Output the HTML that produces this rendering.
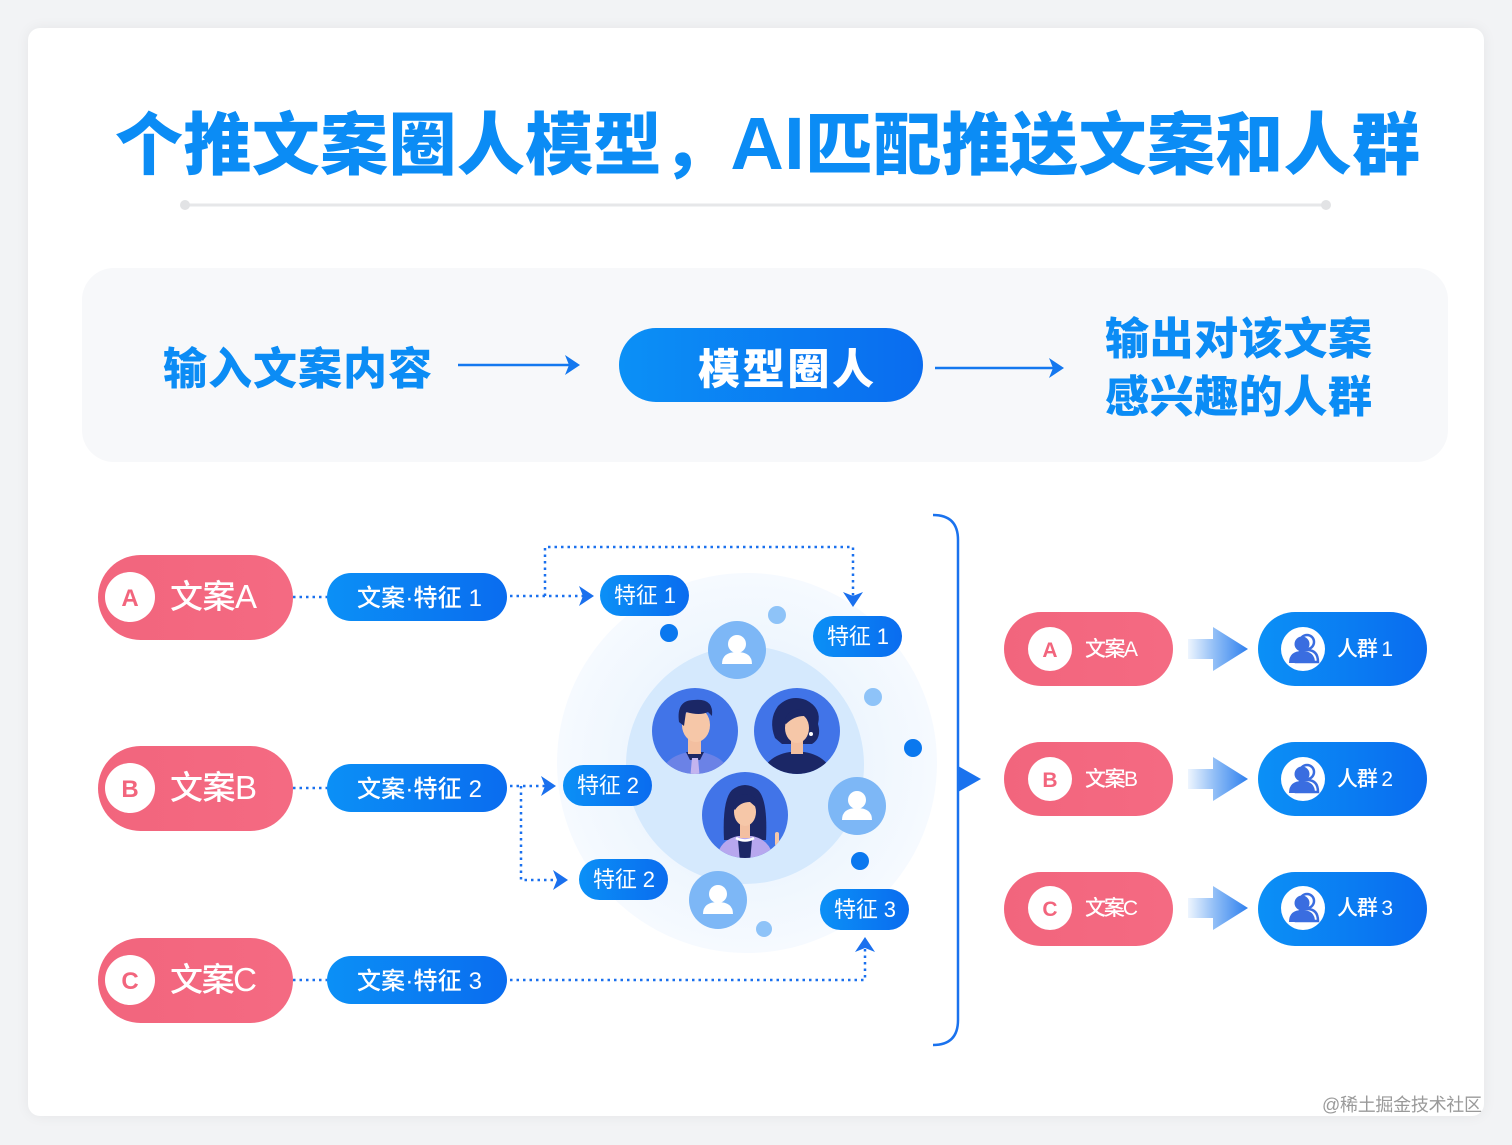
<!DOCTYPE html>
<html><head><meta charset="utf-8"><style>
html,body{margin:0;padding:0;width:1512px;height:1145px;overflow:hidden;background:#f2f3f5;}
.card{position:absolute;left:28px;top:28px;width:1456px;height:1088px;background:#fff;border-radius:12px;box-shadow:0 0 14px rgba(0,0,0,0.06);}
svg{position:absolute;left:0;top:0;}
</style></head><body>
<div class="card"></div>
<svg width="1512" height="1145" viewBox="0 0 1512 1145" font-family="'Liberation Sans','Noto Sans CJK SC',sans-serif">
<defs>
<linearGradient id="bg" x1="0" y1="0" x2="1" y2="0"><stop offset="0" stop-color="#0b90f6"/><stop offset="1" stop-color="#0a6cef"/></linearGradient>
<linearGradient id="pk" x1="0" y1="0" x2="1" y2="0"><stop offset="0" stop-color="#f2657d"/><stop offset="1" stop-color="#f46a82"/></linearGradient>
<linearGradient id="ag" x1="0" y1="0" x2="1" y2="0"><stop offset="0" stop-color="#eef5fe"/><stop offset="0.45" stop-color="#8fbdf6"/><stop offset="1" stop-color="#2f80ee"/></linearGradient>
<radialGradient id="halo" cx="0.5" cy="0.5" r="0.5"><stop offset="0.6" stop-color="#eef6fe"/><stop offset="1" stop-color="#f6faff"/></radialGradient>
<clipPath id="c1"><circle cx="695" cy="731" r="43"/></clipPath>
<clipPath id="c2"><circle cx="797" cy="731" r="43"/></clipPath>
<clipPath id="c3"><circle cx="745" cy="815" r="43"/></clipPath>
<g id="grp">
<circle cx="3" cy="-8" r="7" fill="none" stroke="#3a6de0" stroke-width="2.5"/>
<path d="M-8,12 Q-8,0 3,0 Q14,0 14,12 Z" fill="none" stroke="#3a6de0" stroke-width="2.5"/>
<circle cx="-2" cy="-6" r="7.5" fill="#3a6de0"/>
<path d="M-15,13 Q-15,1 -2,1 Q11,1 11,13 Z" fill="#3a6de0"/>
</g>
<g id="usr">
<circle cx="0" cy="-6" r="9" fill="#fff"/>
<path d="M-15,14 Q-15,2 0,2 Q15,2 15,14 Z" fill="#fff"/>
</g>
</defs>

<!-- Title -->
<text x="115" y="169" font-size="68" font-weight="900" fill="#0b8cf5" textLength="1305" lengthAdjust="spacing">个推文案圈人模型，<tspan font-size="74">AI</tspan>匹配推送文案和人群</text>
<line x1="185" y1="205" x2="1326" y2="205" stroke="#e6e7e9" stroke-width="3"/>
<circle cx="185" cy="205" r="5" fill="#e2e3e5"/>
<circle cx="1326" cy="205" r="5" fill="#e2e3e5"/>

<!-- Top panel -->
<rect x="82" y="268" width="1366" height="194" rx="32" fill="#f7f8fa"/>
<text x="163" y="384" font-size="44" font-weight="900" fill="#0b8cf5" textLength="269" lengthAdjust="spacing">输入文案内容</text>
<line x1="458" y1="365" x2="574" y2="365" stroke="#1478ef" stroke-width="2.5"/>
<path d="M565,355 L580,365 L565,375 L569,365 Z" fill="#1478ef"/>
<rect x="619" y="328" width="304" height="74" rx="37" fill="url(#bg)"/>
<text x="698" y="384" font-size="42" font-weight="900" fill="#fff" textLength="176" lengthAdjust="spacing">模型圈人</text>
<line x1="935" y1="368" x2="1058" y2="368" stroke="#1478ef" stroke-width="2.5"/>
<path d="M1049,358 L1064,368 L1049,378 L1053,368 Z" fill="#1478ef"/>
<text x="1105" y="354" font-size="44" font-weight="900" fill="#0b8cf5" textLength="267" lengthAdjust="spacing">输出对该文案</text>
<text x="1105" y="412" font-size="44" font-weight="900" fill="#0b8cf5" textLength="267" lengthAdjust="spacing">感兴趣的人群</text>

<!-- Center circles -->
<circle cx="747" cy="763" r="190" fill="url(#halo)"/>
<circle cx="745" cy="765" r="119" fill="#d5e9fd"/>

<!-- dots -->
<circle cx="669" cy="633" r="9" fill="#0a78ef"/>
<circle cx="777" cy="615" r="9" fill="#8ec3f8"/>
<circle cx="873" cy="697" r="9" fill="#8ec3f8"/>
<circle cx="913" cy="748" r="9" fill="#0a78ef"/>
<circle cx="860" cy="861" r="9" fill="#0a78ef"/>
<circle cx="764" cy="929" r="8" fill="#8ec3f8"/>

<!-- light user circles -->
<circle cx="737" cy="650" r="29" fill="#7db7f6"/>
<use href="#usr" x="737" y="650"/>
<circle cx="857" cy="806" r="29" fill="#7db7f6"/>
<use href="#usr" x="857" y="806"/>
<circle cx="718" cy="900" r="29" fill="#7db7f6"/>
<use href="#usr" x="718" y="900"/>

<!-- Avatar man -->
<circle cx="695" cy="731" r="43" fill="#4174e8"/>
<g clip-path="url(#c1)">
<path d="M660,780 Q662,756 690,752 L700,752 Q728,756 732,780 Z" fill="#6b82e6"/>
<path d="M686,752 L704,752 L700,760 L690,760 Z" fill="#1b2766"/>
<path d="M692,758 L698,758 L700,780 L690,780 Z" fill="#c3b4ef"/>
<rect x="688" y="738" width="13" height="16" fill="#f3bfa0"/>
<ellipse cx="696" cy="725" rx="14" ry="17" fill="#f6c7a8"/>
<path d="M679,722 Q676,700 694,700 Q714,698 712,716 L708,712 Q700,716 686,712 L684,726 Z" fill="#1b2766"/>
</g>
<!-- Avatar woman -->
<circle cx="797" cy="731" r="43" fill="#4174e8"/>
<g clip-path="url(#c2)">
<path d="M775,738 Q768,720 778,706 Q790,694 806,700 Q822,708 818,724 Q822,738 812,744 L782,744 Z" fill="#1b2766"/>
<path d="M760,780 Q764,756 790,752 L804,752 Q830,756 834,780 Z" fill="#1b2766"/>
<rect x="791" y="740" width="12" height="14" fill="#f3bfa0"/>
<ellipse cx="797" cy="728" rx="12" ry="15" fill="#f6c7a8"/>
<path d="M784,722 Q788,708 800,710 Q810,712 810,722 L804,716 Q794,716 786,724 Z" fill="#1b2766"/>
<circle cx="811" cy="734" r="2" fill="#fff"/>
</g>
<!-- Avatar woman2 -->
<circle cx="745" cy="815" r="43" fill="#4174e8"/>
<g clip-path="url(#c3)">
<path d="M724,840 Q722,800 732,790 Q745,780 758,790 Q768,800 766,840 Z" fill="#1b2766"/>
<path d="M716,862 Q718,840 738,836 L752,836 Q772,840 774,862 Z" fill="#b7a7ee"/>
<path d="M738,840 L752,840 L750,862 L740,862 Z" fill="#1b2766"/>
<rect x="740" y="824" width="10" height="14" fill="#f3bfa0"/>
<ellipse cx="745" cy="812" rx="11" ry="14" fill="#f6c7a8"/>
<path d="M733,808 Q734,794 746,794 Q758,795 757,808 L750,802 Q740,802 735,810 Z" fill="#1b2766"/>
<path d="M736,838 Q745,843 754,838" stroke="#fff" stroke-width="2.5" fill="none"/>
<rect x="775" y="832" width="4" height="14" rx="2" fill="#f6c7a8"/>
</g>

<!-- Connectors dotted -->
<g stroke="#1a70ee" stroke-width="2.5" stroke-dasharray="2.5 4" fill="none">
<path d="M293,597 L327,597"/>
<path d="M293,788 L327,788"/>
<path d="M293,980 L327,980"/>
<path d="M510,596 L584,596"/>
<path d="M545,596 L545,547 L853,547 L853,598"/>
<path d="M510,786 L546,786"/>
<path d="M521,786 L521,880 L558,880"/>
<path d="M510,980 L865,980 L865,947"/>
</g>
<g fill="#1a70ee">
<path d="M579,586 L594,596 L579,606 L583,596 Z"/>
<path d="M843,592 L853,607 L863,592 L853,596 Z"/>
<path d="M541,776 L556,786 L541,796 L545,786 Z"/>
<path d="M553,870 L568,880 L553,890 L557,880 Z"/>
<path d="M855,952 L865,937 L875,952 L865,948 Z"/>
</g>

<!-- Left pink pills -->
<g font-weight="500">
<rect x="98" y="555" width="195" height="85" rx="42.5" fill="url(#pk)"/>
<circle cx="130" cy="597" r="25" fill="#fff"/>
<text x="130" y="606" font-size="24" fill="#f2657d" text-anchor="middle" font-weight="bold">A</text>
<text x="170" y="608" font-size="33" fill="#fff" textLength="87" lengthAdjust="spacing">文案A</text>

<rect x="98" y="746" width="195" height="85" rx="42.5" fill="url(#pk)"/>
<circle cx="130" cy="788" r="25" fill="#fff"/>
<text x="130" y="797" font-size="24" fill="#f2657d" text-anchor="middle" font-weight="bold">B</text>
<text x="170" y="799" font-size="33" fill="#fff" textLength="87" lengthAdjust="spacing">文案B</text>

<rect x="98" y="938" width="195" height="85" rx="42.5" fill="url(#pk)"/>
<circle cx="130" cy="980" r="25" fill="#fff"/>
<text x="130" y="989" font-size="24" fill="#f2657d" text-anchor="middle" font-weight="bold">C</text>
<text x="170" y="991" font-size="33" fill="#fff" textLength="87" lengthAdjust="spacing">文案C</text>
</g>

<!-- 文案·特征 pills -->
<g font-weight="500">
<rect x="327" y="573" width="180" height="48" rx="24" fill="url(#bg)"/>
<text x="357" y="606" font-size="24" fill="#fff" textLength="125" lengthAdjust="spacing">文案·特征 1</text>
<rect x="327" y="764" width="180" height="48" rx="24" fill="url(#bg)"/>
<text x="357" y="797" font-size="24" fill="#fff" textLength="125" lengthAdjust="spacing">文案·特征 2</text>
<rect x="327" y="956" width="180" height="48" rx="24" fill="url(#bg)"/>
<text x="357" y="989" font-size="24" fill="#fff" textLength="125" lengthAdjust="spacing">文案·特征 3</text>
</g>

<!-- small feature pills -->
<g font-size="22" fill="#fff">
<rect x="600" y="575" width="89" height="41" rx="20.5" fill="url(#bg)"/>
<text x="614" y="603" textLength="62" lengthAdjust="spacing" fill="#fff">特征 1</text>
<rect x="813" y="616" width="89" height="41" rx="20.5" fill="url(#bg)"/>
<text x="827" y="644" textLength="62" lengthAdjust="spacing" fill="#fff">特征 1</text>
<rect x="563" y="765" width="89" height="41" rx="20.5" fill="url(#bg)"/>
<text x="577" y="793" textLength="62" lengthAdjust="spacing" fill="#fff">特征 2</text>
<rect x="579" y="859" width="89" height="41" rx="20.5" fill="url(#bg)"/>
<text x="593" y="887" textLength="62" lengthAdjust="spacing" fill="#fff">特征 2</text>
<rect x="820" y="889" width="89" height="41" rx="20.5" fill="url(#bg)"/>
<text x="834" y="917" textLength="62" lengthAdjust="spacing" fill="#fff">特征 3</text>
</g>

<!-- bracket -->
<path d="M933,515 Q958,515 958,540 L958,1020 Q958,1045 933,1045" stroke="#1a72ee" stroke-width="2.5" fill="none"/>
<path d="M958,766 L981,779 L958,792 Z" fill="#1a72ee"/>

<!-- Right column -->
<g font-weight="500">
<rect x="1004" y="612" width="169" height="74" rx="37" fill="url(#pk)"/>
<circle cx="1050" cy="649" r="22" fill="#fff"/>
<text x="1050" y="657" font-size="21" fill="#f2657d" text-anchor="middle" font-weight="bold">A</text>
<text x="1085" y="656" font-size="21" fill="#fff" textLength="53" lengthAdjust="spacing">文案A</text>
<path d="M1188,639 L1213,639 L1213,627 L1248,649 L1213,671 L1213,659 L1188,659 Z" fill="url(#ag)"/>
<rect x="1258" y="612" width="169" height="74" rx="37" fill="url(#bg)"/>
<circle cx="1303" cy="649" r="22" fill="#fff"/>
<use href="#grp" x="1304" y="650"/>
<text x="1337" y="656" font-size="21" fill="#fff" textLength="56" lengthAdjust="spacing">人群 1</text>

<rect x="1004" y="742" width="169" height="74" rx="37" fill="url(#pk)"/>
<circle cx="1050" cy="779" r="22" fill="#fff"/>
<text x="1050" y="787" font-size="21" fill="#f2657d" text-anchor="middle" font-weight="bold">B</text>
<text x="1085" y="786" font-size="21" fill="#fff" textLength="53" lengthAdjust="spacing">文案B</text>
<path d="M1188,769 L1213,769 L1213,757 L1248,779 L1213,801 L1213,789 L1188,789 Z" fill="url(#ag)"/>
<rect x="1258" y="742" width="169" height="74" rx="37" fill="url(#bg)"/>
<circle cx="1303" cy="779" r="22" fill="#fff"/>
<use href="#grp" x="1304" y="780"/>
<text x="1337" y="786" font-size="21" fill="#fff" textLength="56" lengthAdjust="spacing">人群 2</text>

<rect x="1004" y="872" width="169" height="74" rx="37" fill="url(#pk)"/>
<circle cx="1050" cy="908" r="22" fill="#fff"/>
<text x="1050" y="916" font-size="21" fill="#f2657d" text-anchor="middle" font-weight="bold">C</text>
<text x="1085" y="915" font-size="21" fill="#fff" textLength="53" lengthAdjust="spacing">文案C</text>
<path d="M1188,898 L1213,898 L1213,886 L1248,908 L1213,930 L1213,918 L1188,918 Z" fill="url(#ag)"/>
<rect x="1258" y="872" width="169" height="74" rx="37" fill="url(#bg)"/>
<circle cx="1303" cy="908" r="22" fill="#fff"/>
<use href="#grp" x="1304" y="909"/>
<text x="1337" y="915" font-size="21" fill="#fff" textLength="56" lengthAdjust="spacing">人群 3</text>
</g>

<!-- watermark -->
<text x="1322" y="1111" font-size="18" fill="#9a9a9a" textLength="160" lengthAdjust="spacing">@稀土掘金技术社区</text>
</svg>
</body></html>
